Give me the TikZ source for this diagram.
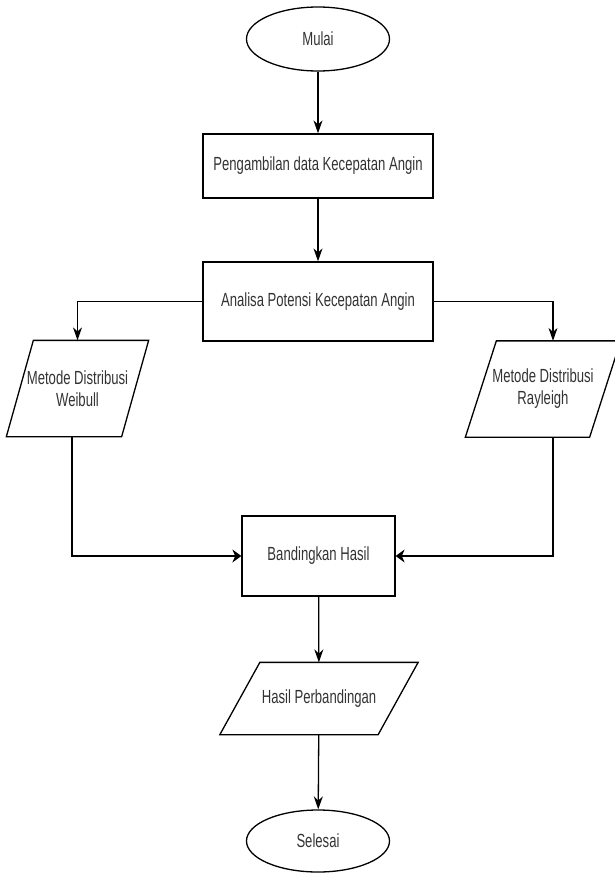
\documentclass[tikz,border=0pt]{standalone}
\usepackage{fontspec}
\setmainfont{Liberation Sans}[FakeStretch=0.69]
\usepackage{tikz}
\usetikzlibrary{arrows.meta,positioning,shapes.geometric}
\definecolor{ink}{HTML}{333333}

\begin{document}
\begin{tikzpicture}[x=1pt, y=-1pt, line width=1.3pt,
  base/.style={font=\fontsize{19}{22}\selectfont, text=ink, inner sep=0pt, align=center},
  terminal/.style={base, draw=black, ellipse, minimum width=143pt},
  proses/.style={base, draw=black, rectangle},
  data/.style={base, rectangle},
  vflow/.style={-{Stealth[length=13pt,width=9pt]}},
  hflow/.style={-{Stealth[length=9pt,width=13pt]}}]

\useasboundingbox (0,0) rectangle (615,873);

% ---------- main column
\node[terminal, minimum height=64pt] (mulai) at (318,39) {Mulai};
\node[proses, minimum width=230pt, minimum height=64pt] (ambil) at (318,166) {Pengambilan data Kecepatan Angin};
\node[proses, minimum width=230pt, minimum height=79pt] (analisa) at (318,301.5) {Analisa Potensi Kecepatan Angin};

% ---------- the two methods
\node[data, minimum width=141pt, minimum height=95pt] (weibull) at (77.5,388.5) {Metode Distribusi\\Weibull};
\node[data, minimum width=154pt, minimum height=95pt] (rayleigh) at (543,389) {Metode Distribusi\\Rayleigh};

% ---------- comparison and end
\node[proses, minimum width=153pt, minimum height=80pt] (banding) at (318.5,556) {Bandingkan Hasil};
\node[data, minimum width=197pt, minimum height=71pt] (hasil) at (319,698.5) {Hasil Perbandingan};
\node[terminal, minimum height=62pt] (selesai) at (318,841) {Selesai};

% ---------- parallelogram outlines
\foreach \n/\s in {weibull/27, rayleigh/31, hasil/40}{
  \draw (\n.south west) -- ([xshift=\s pt]\n.north west) -- (\n.north east)
        -- ([xshift=-\s pt]\n.south east) -- cycle; }

% ---------- connectors
\draw[vflow] (mulai) -- (ambil);
\draw[vflow] (ambil) -- (analisa);
\draw[vflow] (analisa.west) -| (weibull.north);
\draw[vflow] (analisa.east) -| ([xshift=10pt]rayleigh.north);
\draw[hflow] ([xshift=-5.5pt]weibull.south) |- (banding.west);
\draw[hflow] ([xshift=10pt]rayleigh.south) |- (banding.east);
\draw[vflow] (banding) -- (hasil);
\draw[vflow] (hasil) -- (selesai);

\end{tikzpicture}
\end{document}
